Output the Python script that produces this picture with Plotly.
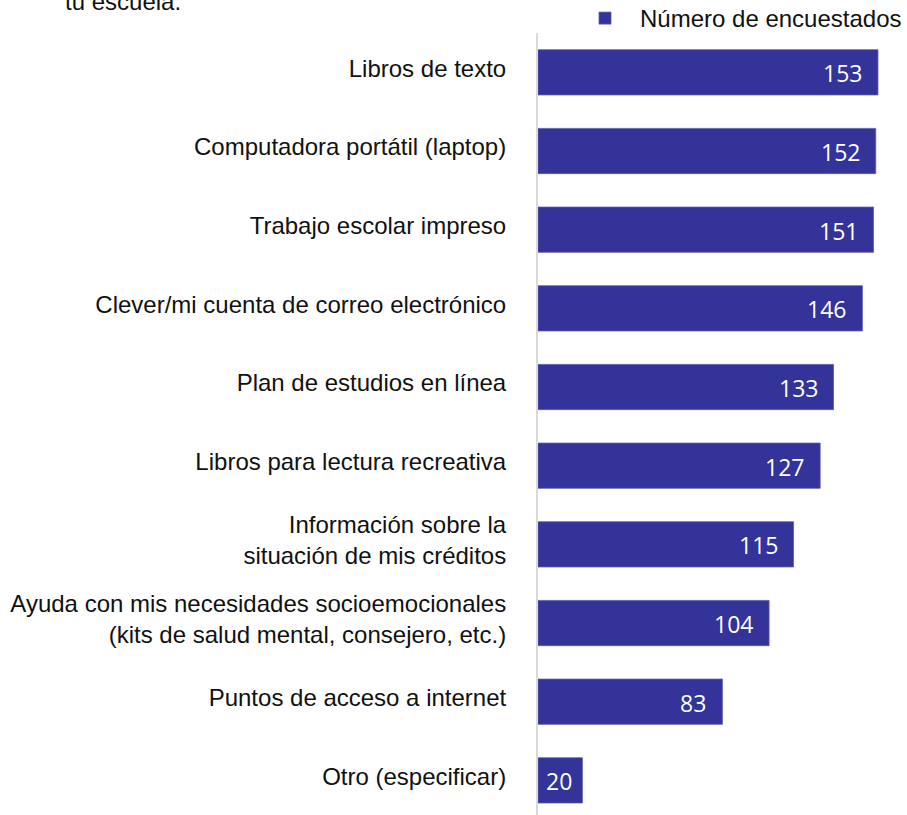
import plotly.graph_objects as go

categories = [
    "Libros de texto",
    "Computadora portátil (laptop)",
    "Trabajo escolar impreso",
    "Clever/mi cuenta de correo electrónico",
    "Plan de estudios en línea",
    "Libros para lectura recreativa",
    "Información sobre la<br>situación de mis créditos",
    "Ayuda con mis necesidades socioemocionales<br>(kits de salud mental, consejero, etc.)",
    "Puntos de acceso a internet",
    "Otro (especificar)",
]
values = [153, 152, 151, 146, 133, 127, 115, 104, 83, 20]
series_name = "Número de encuestados"
title_text = "tu escuela."

BAR = "#333399"
W, H = 907, 815
L, T = 538, 33

fig = go.Figure()
fig.add_trace(go.Bar(
    x=values, y=categories, orientation="h", name=series_name,
    marker=dict(color=BAR, line=dict(color="#5c5cb0", width=0.8)),
    showlegend=True,
))

for c, v in zip(categories, values):
    fig.add_annotation(
        x=v, y=c, xref="x", yref="y", text=str(v), showarrow=False,
        xanchor="right", yanchor="middle", xshift=-14 if v > 40 else -8, yshift=-1,
        font=dict(family="Open Sans", size=23, color="white"),
    )

fig.add_annotation(
    x=(63 - L) / (W - L), y=1 - 2 / H, xref="paper", yref="paper",
    text=title_text, showarrow=False,
    xanchor="left", yanchor="middle",
    font=dict(family="Liberation Sans", size=24, color="#111"),
)

fig.update_layout(
    width=W, height=H,
    margin=dict(l=L, r=0, t=0, b=0, pad=0, autoexpand=False),
    plot_bgcolor="white", paper_bgcolor="white",
    bargap=0.425,
    font=dict(family="Liberation Sans", size=24, color="#111"),
    xaxis=dict(range=[0, (W - L) / 2.222], showgrid=False, zeroline=False,
               showticklabels=False, showline=False, fixedrange=True),
    yaxis=dict(domain=[0, (H - T) / H], range=[9.44, -0.5], showgrid=False, zeroline=False,
               showline=True, linecolor="#d9d9d9", linewidth=2,
               ticks="", ticklabelstandoff=25, ticklabelshift=4,
               tickfont=dict(family="Liberation Sans", size=24, color="#111")),
    legend=dict(x=1, y=1 + 4 / H, xanchor="right", yanchor="top",
                orientation="h", itemwidth=60, bgcolor="rgba(0,0,0,0)",
                font=dict(family="Liberation Sans", size=24, color="#111")),
)

fig.write_html("out.html", config={"displayModeBar": False},
               post_script="document.body.style.margin='0';")
